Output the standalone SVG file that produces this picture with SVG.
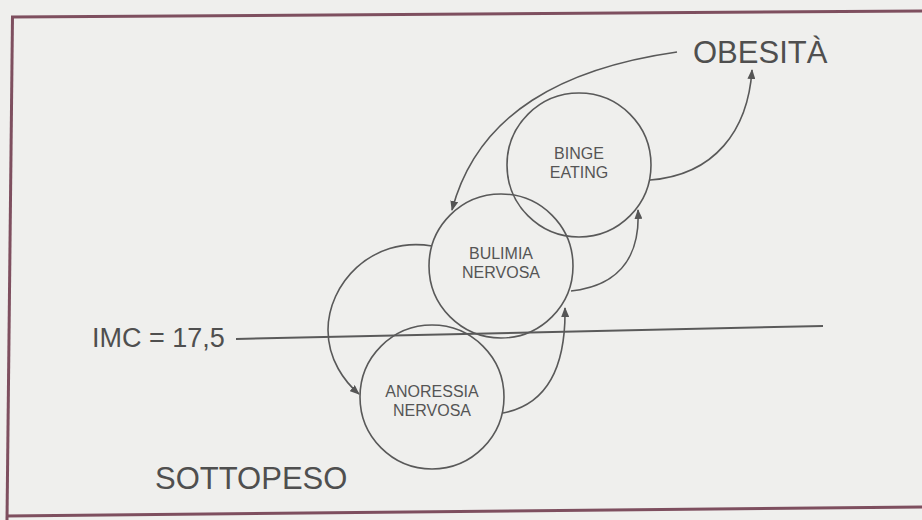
<svg xmlns="http://www.w3.org/2000/svg" width="922" height="520" viewBox="0 0 922 520">
  <defs>
    <marker id="arr" viewBox="0 0 10 8" refX="9" refY="4" markerWidth="10" markerHeight="8" markerUnits="userSpaceOnUse" orient="auto">
      <path d="M0,0 L10,4 L0,8 Z" fill="#555"/>
    </marker>
    <style>
      .node { fill: none; stroke: #595959; stroke-width: 1.6; }
      .lbl { font-family: "Liberation Sans", Arial, sans-serif; font-size: 16px; fill: #555; text-anchor: middle; }
      .big { font-family: "Liberation Sans", Arial, sans-serif; fill: #4f4f4f; }
      .conn path { fill: none; stroke: #595959; stroke-width: 1.6; marker-end: url(#arr); }
      .frame { fill: none; stroke: #7e4f5f; stroke-width: 3; }
    </style>
  </defs>
  <rect x="0" y="0" width="922" height="520" fill="#efefed"/>
  <g id="frame">
    <path class="frame" d="M11 17 L922 11"/>
    <path class="frame" d="M12.5 16 L7 520"/>
    <path class="frame" d="M6 516 L922 507"/>
  </g>
  <g id="threshold">
    <path d="M236 339 L823 326" stroke="#5a5a5a" stroke-width="2" fill="none"/>
    <text class="big" x="92" y="347" font-size="27">IMC = 17,5</text>
  </g>
  <g id="obesita">
    <text class="big" x="693" y="63" font-size="31">OBESITÀ</text>
  </g>
  <g id="sottopeso">
    <text class="big" x="155" y="489" font-size="31">SOTTOPESO</text>
  </g>
  <g id="binge">
    <circle class="node" cx="579" cy="165" r="72"/>
    <text class="lbl" x="579" y="159">BINGE</text>
    <text class="lbl" x="579" y="178">EATING</text>
  </g>
  <g id="bulimia">
    <circle class="node" cx="501" cy="266" r="72"/>
    <text class="lbl" x="501" y="259">BULIMIA</text>
    <text class="lbl" x="501" y="278">NERVOSA</text>
  </g>
  <g id="anoressia">
    <circle class="node" cx="432" cy="397" r="72"/>
    <text class="lbl" x="432" y="397">ANORESSIA</text>
    <text class="lbl" x="432" y="416">NERVOSA</text>
  </g>
  <g id="connectors" class="conn">
    <path d="M677 52 C565 68, 478 112, 452 210"/>
    <path d="M650 180 C715 175, 748 130, 752 70"/>
    <path d="M571 291 C625 285, 640 250, 638 210"/>
    <path d="M503 413 C545 405, 566 370, 565 308"/>
    <path d="M432 246 C370 236, 328 285, 328 330 C328 360, 345 382, 359 394"/>
  </g>
</svg>
